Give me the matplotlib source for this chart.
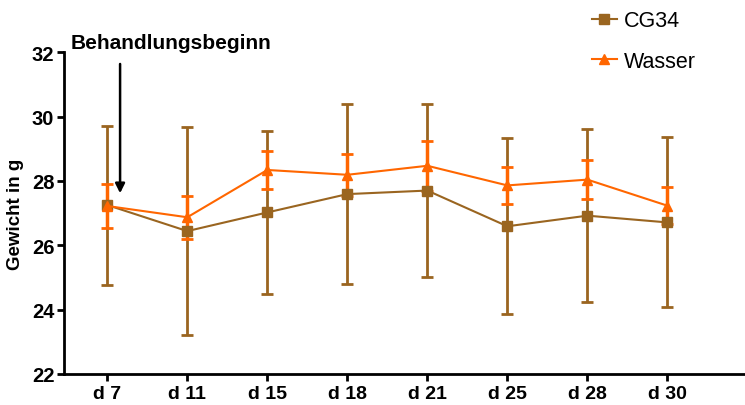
import matplotlib
matplotlib.use('Agg')
import matplotlib.pyplot as plt
from matplotlib.lines import Line2D
import numpy as np

plt.rcParams['font.family'] = ['Liberation Sans', 'DejaVu Sans']

days = ['d 7', 'd 11', 'd 15', 'd 18', 'd 21', 'd 25', 'd 28', 'd 30']
cg34_mean = [27.25, 26.44, 27.02, 27.59, 27.70, 26.59, 26.92, 26.71]
cg34_sd = [2.47, 3.22, 2.53, 2.79, 2.68, 2.74, 2.69, 2.64]
wasser_mean = [27.22, 26.87, 28.34, 28.19, 28.47, 27.86, 28.04, 27.23]
wasser_sd = [0.67, 0.67, 0.58, 0.66, 0.78, 0.58, 0.60, 0.57]

brown = '#9a6520'
orange = '#ff6600'

fig = plt.figure(figsize=(7.45, 4.06), dpi=100)
ax = fig.add_axes([0.086, 0.0764, 0.914, 0.7926])

x = np.arange(len(days))
ax.errorbar(x, cg34_mean, yerr=cg34_sd, color=brown, marker='s', markersize=7,
            linewidth=1.5, elinewidth=2, capsize=4, capthick=2)
ax.errorbar(x, wasser_mean, yerr=wasser_sd, color=orange, marker='^', markersize=7,
            linewidth=1.5, elinewidth=2.5, capsize=4, capthick=2)

ax.set_xlim(-0.54, 7.97)
ax.set_ylim(22, 32)
ax.set_yticks([22, 24, 26, 28, 30, 32])
ax.set_xticks(x)
ax.set_xticklabels(days)
for s in ['top', 'right']:
    ax.spines[s].set_visible(False)
for s in ['left', 'bottom']:
    ax.spines[s].set_linewidth(2)
ax.tick_params(axis='both', width=2, length=5, direction='out', labelsize=14.5)
for lab in ax.get_xticklabels() + ax.get_yticklabels():
    lab.set_fontweight('bold')
ax.tick_params(axis='x', pad=3, labelsize=14)
ax.tick_params(axis='y', pad=2)
ax.set_ylabel('Gewicht in g', fontsize=13.5, fontweight='bold', labelpad=6)

ax.text(-0.46, 32.3, 'Behandlungsbeginn', fontsize=15, fontweight='bold',
        va='center', ha='left', clip_on=False)
ax.annotate('', xy=(0.16, 27.53), xytext=(0.16, 31.72),
            arrowprops=dict(arrowstyle='-|>', color='black', lw=1.8, mutation_scale=14))

h1 = Line2D([], [], color=brown, marker='s', markersize=7, linewidth=1.5)
h2 = Line2D([], [], color=orange, marker='^', markersize=7, linewidth=1.5)
fig.legend(handles=[h1, h2], labels=['CG34', 'Wasser'], loc='upper left',
           bbox_to_anchor=(0.768, 1.02), frameon=False, fontsize=15.5,
           handlelength=1.2, labelspacing=0.9, handletextpad=0.3)

fig.savefig('out.png', dpi=100)
